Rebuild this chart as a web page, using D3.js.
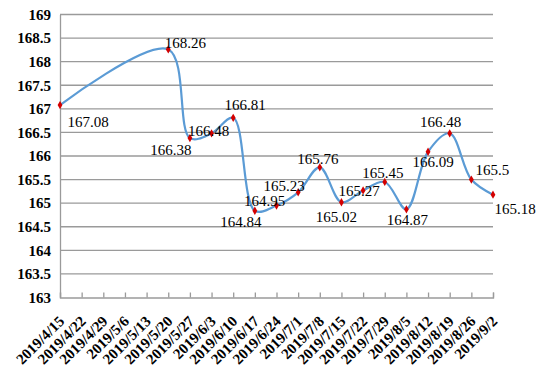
<!DOCTYPE html>
<html>
<head>
<meta charset="utf-8">
<script src="https://cdn.jsdelivr.net/npm/d3@7/dist/d3.min.js"></script>
<style>
    html, body { margin: 0; padding: 0; background: #fff; }
    svg { display: block; }
</style>
</head>
<body>
<div id="chart"></div>
<script>
const WIDTH = 543;
const HEIGHT = 373;
const MARGIN = { top: 14.5, right: 50, bottom: 75.5, left: 60 };

const dates = [
    '2019/4/15', '2019/4/22', '2019/4/29', '2019/5/6', '2019/5/13', '2019/5/20', '2019/5/27',
    '2019/6/3', '2019/6/10', '2019/6/17', '2019/6/24', '2019/7/1', '2019/7/8', '2019/7/15',
    '2019/7/22', '2019/7/29', '2019/8/5', '2019/8/12', '2019/8/19', '2019/8/26', '2019/9/2'
];
// null = no reading that week
const values = [
    167.08, null, null, null, null, 168.26, 166.38,
    166.48, 166.81, 164.84, 164.95, 165.23, 165.76, 165.02,
    165.27, 165.45, 164.87, 166.09, 166.48, 165.5, 165.18
];
const yTicks = [163, 163.5, 164, 164.5, 165, 165.5, 166, 166.5, 167, 167.5, 168, 168.5, 169];

// where each value label sits relative to its point (px)
const labelOffsets = [
    [28, 17], null, null, null, null, [17, -7], [-19, 12],
    [-3, -3], [12, -13], [-14, 11], [-12, -5], [-14, -7], [-2, -9], [-5, 15],
    [-4, 0], [-2, -9], [1, 10], [5, 10], [-9, -12], [21, -10], [22, 14]
];

const FONT = '"Liberation Serif", "DejaVu Serif", serif';

const svg = d3.select('#chart').append('svg')
    .attr('width', WIDTH)
    .attr('height', HEIGHT);

const x = d3.scaleLinear()
    .domain([0, dates.length - 1])
    .range([MARGIN.left, WIDTH - MARGIN.right]);

const y = d3.scaleLinear()
    .domain([163, 169])
    .range([HEIGHT - MARGIN.bottom, MARGIN.top]);

/*grid*/
svg.append('g')
    .selectAll('line')
    .data(yTicks.filter(t => t !== 163))
    .join('line')
    .attr('x1', x(0))
    .attr('x2', x(dates.length - 1))
    .attr('y1', d => y(d))
    .attr('y2', d => y(d))
    .attr('stroke', '#9a9a9a')
    .attr('stroke-width', 1.3);

/*y axis*/
const yAxis = svg.append('g')
    .attr('transform', `translate(${MARGIN.left},0)`)
    .call(d3.axisLeft(y).tickValues(yTicks).tickSize(0).tickPadding(9).tickFormat(d => d));
yAxis.select('.domain').attr('stroke', '#9a9a9a').attr('stroke-width', 1.3);
yAxis.selectAll('text')
    .attr('font-family', FONT)
    .attr('font-weight', 'bold')
    .attr('font-size', 15)
    .attr('fill', '#000');

/*x axis*/
const xAxis = svg.append('g')
    .attr('transform', `translate(0,${y(163)})`)
    .call(d3.axisBottom(x).tickValues(d3.range(dates.length)).tickSize(-5).tickFormat(i => dates[i]));
xAxis.select('.domain').attr('stroke', '#9a9a9a').attr('stroke-width', 1.3);
xAxis.selectAll('.tick line').attr('stroke', '#9a9a9a').attr('stroke-width', 1.3);
xAxis.selectAll('text')
    .attr('font-family', FONT)
    .attr('font-weight', 'bold')
    .attr('font-size', 15)
    .attr('fill', '#000')
    .attr('text-anchor', 'end')
    .attr('dy', '0.35em')
    .attr('transform', 'translate(1,21) rotate(-45)')
    .attr('y', 0);

/*line*/
const points = values
    .map((v, i) => ({ i, v, off: labelOffsets[i] }))
    .filter(d => d.v !== null);

svg.append('path')
    .datum(points)
    .attr('fill', 'none')
    .attr('stroke', '#5b9bd5')
    .attr('stroke-width', 2.2)
    .attr('d', d3.line()
        .x(d => x(d.i))
        .y(d => y(d.v))
        .curve(d3.curveCatmullRom.alpha(0.5)));

svg.append('g')
    .selectAll('path')
    .data(points)
    .join('path')
    .attr('transform', d => `translate(${x(d.i)},${y(d.v)})`)
    .attr('d', d3.symbol(d3.symbolDiamond, 20))
    .attr('fill', '#d40000');

svg.append('g')
    .selectAll('text')
    .data(points)
    .join('text')
    .attr('x', d => x(d.i) + d.off[0])
    .attr('y', d => y(d.v) + d.off[1])
    .attr('dy', '0.35em')
    .attr('text-anchor', 'middle')
    .attr('font-family', FONT)
    .attr('font-size', 15)
    .attr('fill', '#000')
    .text(d => d.v);
</script>
</body>
</html>
